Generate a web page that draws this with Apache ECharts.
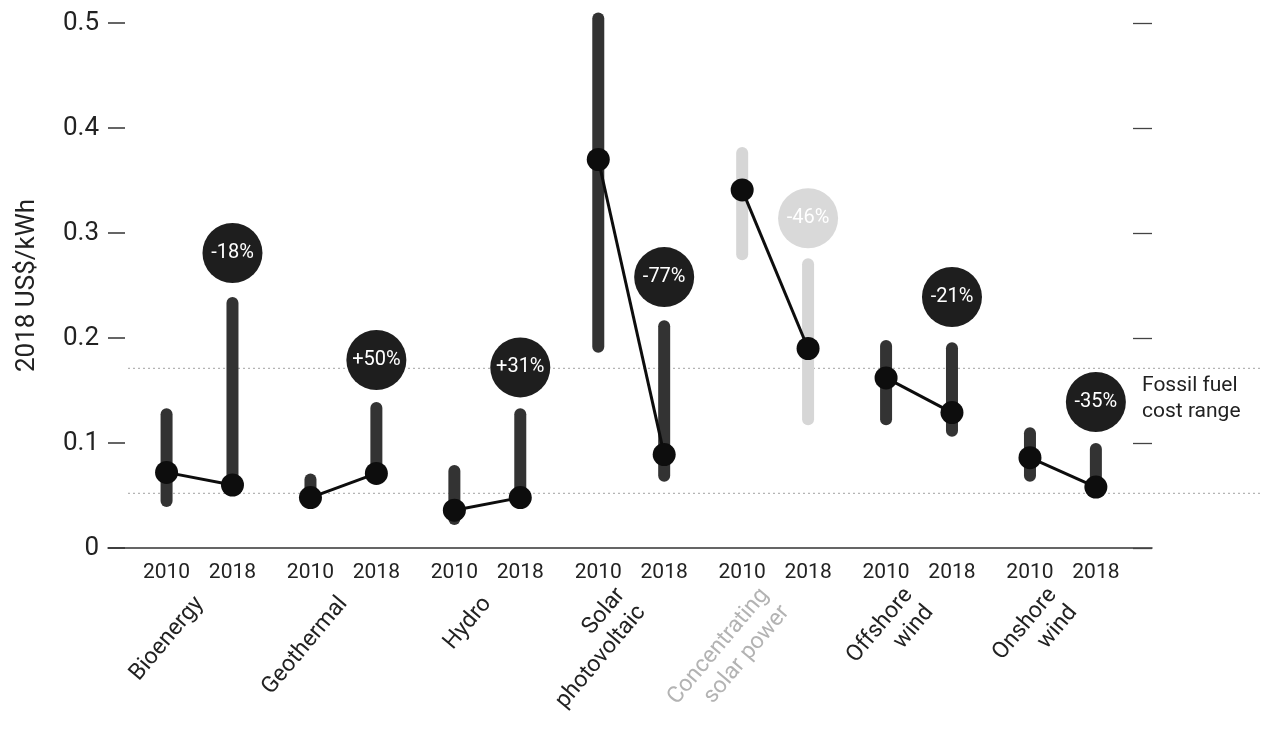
<!DOCTYPE html>
<html><head><meta charset="utf-8">
<script src="https://cdn.jsdelivr.net/npm/echarts@6/dist/echarts.min.js"></script>
<style>html,body{margin:0;padding:0;background:#fff}#c{width:1262px;height:740px}</style>
</head><body><div id="c"></div>
<script>
// ---- data ----
const technologies = ['Bioenergy','Geothermal','Hydro','Solar\nphotovoltaic','Concentrating\nsolar power','Offshore\nwind','Onshore\nwind'];
const years = ['2010','2018'];
const low2010  = [0.039,0.045,0.022,0.186,0.274,0.117,0.063];
const high2010 = [0.133,0.071,0.079,0.510,0.382,0.198,0.115];
const avg2010  = [0.072,0.048,0.036,0.370,0.341,0.162,0.086];
const low2018  = [0.055,0.068,0.040,0.063,0.117,0.106,0.050];
const high2018 = [0.239,0.139,0.133,0.217,0.276,0.196,0.100];
const avg2018  = [0.060,0.071,0.048,0.089,0.190,0.129,0.058];
const changeLabels = ['-18%','+50%','+31%','-77%','-46%','-21%','-35%'];
const badgeLevel = [0.281,0.179,0.172,0.258,0.314,0.239,0.139];
const fossilRange = [0.052,0.171];
const yMin = 0, yMax = 0.5, yStep = 0.1;

// ---- layout / style ----
const OFF = 0.229;           // half distance between the two years of a group (in group units)
const FADED = 4;             // index of the faded technology (CSP)
const xp = (k, yi) => k + (yi === 0 ? -OFF : OFF);
const FONT = 'Roboto, "Noto Sans", sans-serif';
const dark = '#333333', light = '#d6d6d6';

const barData = [];
technologies.forEach((t, k) => {
  barData.push([xp(k,0), low2010[k], high2010[k], k]);
  barData.push([xp(k,1), low2018[k], high2018[k], k]);
});
const yearValues = [];
technologies.forEach((t, k) => { yearValues.push(xp(k,0), xp(k,1)); });

const lineSeries = technologies.map((t, k) => ({
  type: 'line', xAxisIndex: 0, yAxisIndex: 0, z: 5,
  data: [[xp(k,0), avg2010[k]], [xp(k,1), avg2018[k]]],
  symbol: 'circle', symbolSize: 23, showSymbol: true,
  itemStyle: { color: '#0d0d0d', opacity: 1 },
  lineStyle: { color: '#0d0d0d', width: 3 },
  silent: true
}));

const fossilSeries = fossilRange.map(f => ({
  type: 'line', xAxisIndex: 2, yAxisIndex: 2, z: 1,
  data: [[0, f], [1, f]], symbol: 'none', silent: true,
  lineStyle: { color: '#b4b4b4', width: 1.3, type: [2, 3] }
}));

const chart = echarts.init(document.getElementById('c'), null, { renderer: 'canvas' });
chart.setOption({
  animation: false,
  backgroundColor: '#fff',
  grid: [
    { left: 108, right: 110, top: 23, bottom: 192 },
    { left: 128, right: 0, top: 23, bottom: 192 }
  ],
  xAxis: [
    { type: 'value', gridIndex: 0, min: -0.636, max: 6.619, position: 'bottom',
      axisLine: { show: true, onZero: false, lineStyle: { color: '#333', width: 1.5 } },
      axisTick: { show: false }, splitLine: { show: false },
      axisLabel: { customValues: yearValues, margin: 14, fontSize: 21, color: '#222', fontFamily: FONT,
        formatter: v => (v - Math.round(v) < 0 ? years[0] : years[1]) } },
    { type: 'value', gridIndex: 0, min: -0.636, max: 6.619, position: 'bottom',
      axisLine: { show: false, onZero: false }, axisTick: { show: false }, splitLine: { show: false },
      axisLabel: { customValues: technologies.map((t, k) => k), rotate: 50, margin: 52,
        fontSize: 23, color: '#222', fontFamily: FONT, lineHeight: 27,
        formatter: v => {
          const k = Math.round(v);
          const t = technologies[k];
          if (k === FADED) return t.split('\n').map(s => '{g|' + s + '}').join('\n');
          return t;
        },
        rich: { g: { color: '#b3b3b3', fontSize: 23, fontFamily: FONT, lineHeight: 27 } } } },
    { type: 'value', gridIndex: 1, min: 0, max: 1, show: false }
  ],
  yAxis: [
    { type: 'value', gridIndex: 0, min: yMin, max: yMax, interval: yStep, position: 'left',
      name: '2018 US$/kWh', nameLocation: 'middle', nameGap: 68, nameRotate: 90,
      nameTextStyle: { fontSize: 26, color: '#222', fontFamily: FONT },
      axisLine: { show: false, onZero: false },
      axisTick: { show: true, inside: true, length: 17, lineStyle: { color: '#333', width: 1.5 } },
      splitLine: { show: false },
      axisLabel: { fontSize: 26, color: '#222', margin: 9, fontFamily: FONT,
        formatter: v => (v === 0 ? '0' : v.toFixed(1)) } },
    { type: 'value', gridIndex: 0, min: yMin, max: yMax, interval: yStep, position: 'right',
      axisLine: { show: false, onZero: false },
      axisTick: { show: true, inside: true, length: 19, lineStyle: { color: '#444', width: 1.3 } },
      splitLine: { show: false }, axisLabel: { show: false } },
    { type: 'value', gridIndex: 1, min: yMin, max: yMax, show: false }
  ],
  series: [
    ...fossilSeries,
    { type: 'custom', xAxisIndex: 0, yAxisIndex: 0, z: 3, silent: true,
      data: barData, encode: { x: 0, y: [1, 2] },
      renderItem: (params, api) => {
        const x = api.value(0), lo = api.value(1), hi = api.value(2), k = api.value(3);
        const top = api.coord([x, hi]), bot = api.coord([x, lo]);
        const w = 12;
        return { type: 'rect',
          shape: { x: top[0] - w / 2, y: top[1], width: w, height: bot[1] - top[1], r: w / 2 },
          style: { fill: k === FADED ? light : dark } };
      } },
    ...lineSeries,
    { type: 'scatter', xAxisIndex: 0, yAxisIndex: 0, z: 6, silent: true,
      data: technologies.map((t, k) => ({ value: [xp(k,1), badgeLevel[k]],
        itemStyle: { color: k === FADED ? '#d9d9d9' : '#1e1e1e', opacity: 1 } })),
      symbol: 'circle', symbolSize: 60,
      label: { show: true, position: 'inside', formatter: p => changeLabels[p.dataIndex],
        color: '#fff', fontSize: 20, fontFamily: FONT } }
  ],
  graphic: [
    { type: 'text', left: 1142, top: 373, silent: true,
      style: { text: 'Fossil fuel\ncost range', font: '21px ' + FONT, fill: '#222', lineHeight: 26 } }
  ]
});
</script></body></html>
